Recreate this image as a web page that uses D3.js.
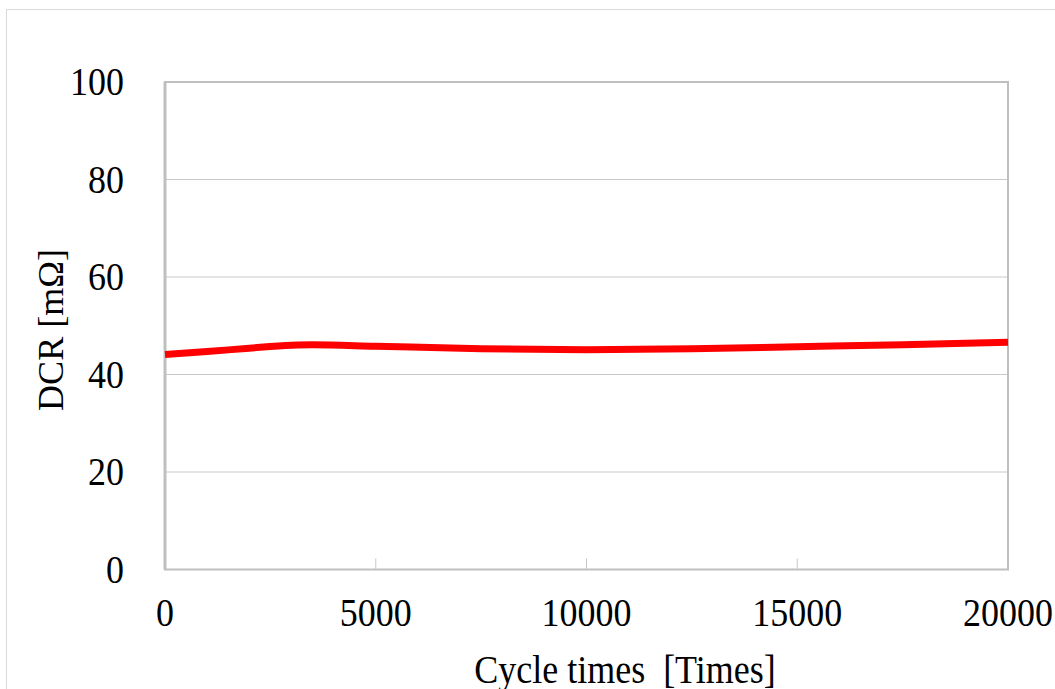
<!DOCTYPE html>
<html><head><meta charset="utf-8">
<script src="https://cdn.jsdelivr.net/npm/d3@7/dist/d3.min.js"></script>
<style>body{margin:0;background:#fff}svg{display:block}text{white-space:pre}</style>
</head><body><svg id="c" width="1055" height="689"></svg>
<script>
const cycles = [0, 1000, 2000, 3000, 3500, 5000, 7500, 10000, 12500, 15000, 17500, 20000];
const dcr    = [44.1, 44.7, 45.4, 46.0, 46.1, 45.8, 45.3, 45.1, 45.3, 45.7, 46.1, 46.6];
const xTicks = [0, 5000, 10000, 15000, 20000];
const yTicks = [0, 20, 40, 60, 80, 100];
const xTitle = "Cycle times  [Times]";
const yTitle = "DCR [mΩ]";

const svg = d3.select("#c");
const font = "'Liberation Serif','Times New Roman',serif";
const m = {l:165, r:1008, t:82, b:569.5};
const x = d3.scaleLinear().domain([0,20000]).range([m.l,m.r]);
const y = d3.scaleLinear().domain([0,100]).range([m.b,m.t]);
const sy = 1.12;

svg.append("rect").attr("x",6.5).attr("y",9.5).attr("width",1060).attr("height",700)
  .attr("fill","#fff").attr("stroke","#d9d9d9").attr("stroke-width",1);

svg.append("g").selectAll("line").data(yTicks.filter(d=>d>0&&d<100)).join("line")
  .attr("x1",m.l).attr("x2",m.r).attr("y1",d=>y(d)).attr("y2",d=>y(d))
  .attr("stroke","#c8c8c8").attr("stroke-width",1);

svg.append("rect").attr("x",m.l).attr("y",m.t).attr("width",m.r-m.l).attr("height",m.b-m.t)
  .attr("fill","none").attr("stroke","#bfbfbf").attr("stroke-width",2);
svg.append("line").attr("x1",m.l).attr("x2",m.l).attr("y1",m.t).attr("y2",m.b)
  .attr("stroke","#bfbfbf").attr("stroke-width",3);

svg.append("g").selectAll("line").data(xTicks.slice(1,-1)).join("line")
  .attr("x1",d=>x(d)).attr("x2",d=>x(d)).attr("y1",m.b).attr("y2",m.b-11)
  .attr("stroke","#c8c8c8").attr("stroke-width",1);

svg.append("g").selectAll("text").data(xTicks).join("text")
  .attr("transform",d=>`translate(${x(d)},626) scale(1,${sy})`).attr("text-anchor","middle")
  .attr("font-family",font).attr("font-size",36).attr("fill","#000")
  .text(d=>d);

svg.append("g").selectAll("text").data(yTicks).join("text")
  .attr("transform",d=>`translate(124,${y(d)+13}) scale(1,${sy})`).attr("text-anchor","end")
  .attr("font-family",font).attr("font-size",36).attr("fill","#000")
  .text(d=>d);

svg.append("text").attr("transform",`translate(625,683) scale(1,${sy})`).attr("text-anchor","middle")
  .attr("font-family",font).attr("font-size",36).attr("fill","#000").text(xTitle);
svg.append("text").attr("transform","translate(63,330) rotate(-90)").attr("text-anchor","middle")
  .attr("font-family",font).attr("font-size",36).attr("fill","#000").text(yTitle);

const line = d3.line().x((d,i)=>x(cycles[i])).y(d=>y(d)).curve(d3.curveMonotoneX);
svg.append("path").datum(dcr).attr("d",line).attr("fill","none")
  .attr("stroke","#ff0000").attr("stroke-width",7).attr("stroke-linecap","butt");
</script></body></html>
